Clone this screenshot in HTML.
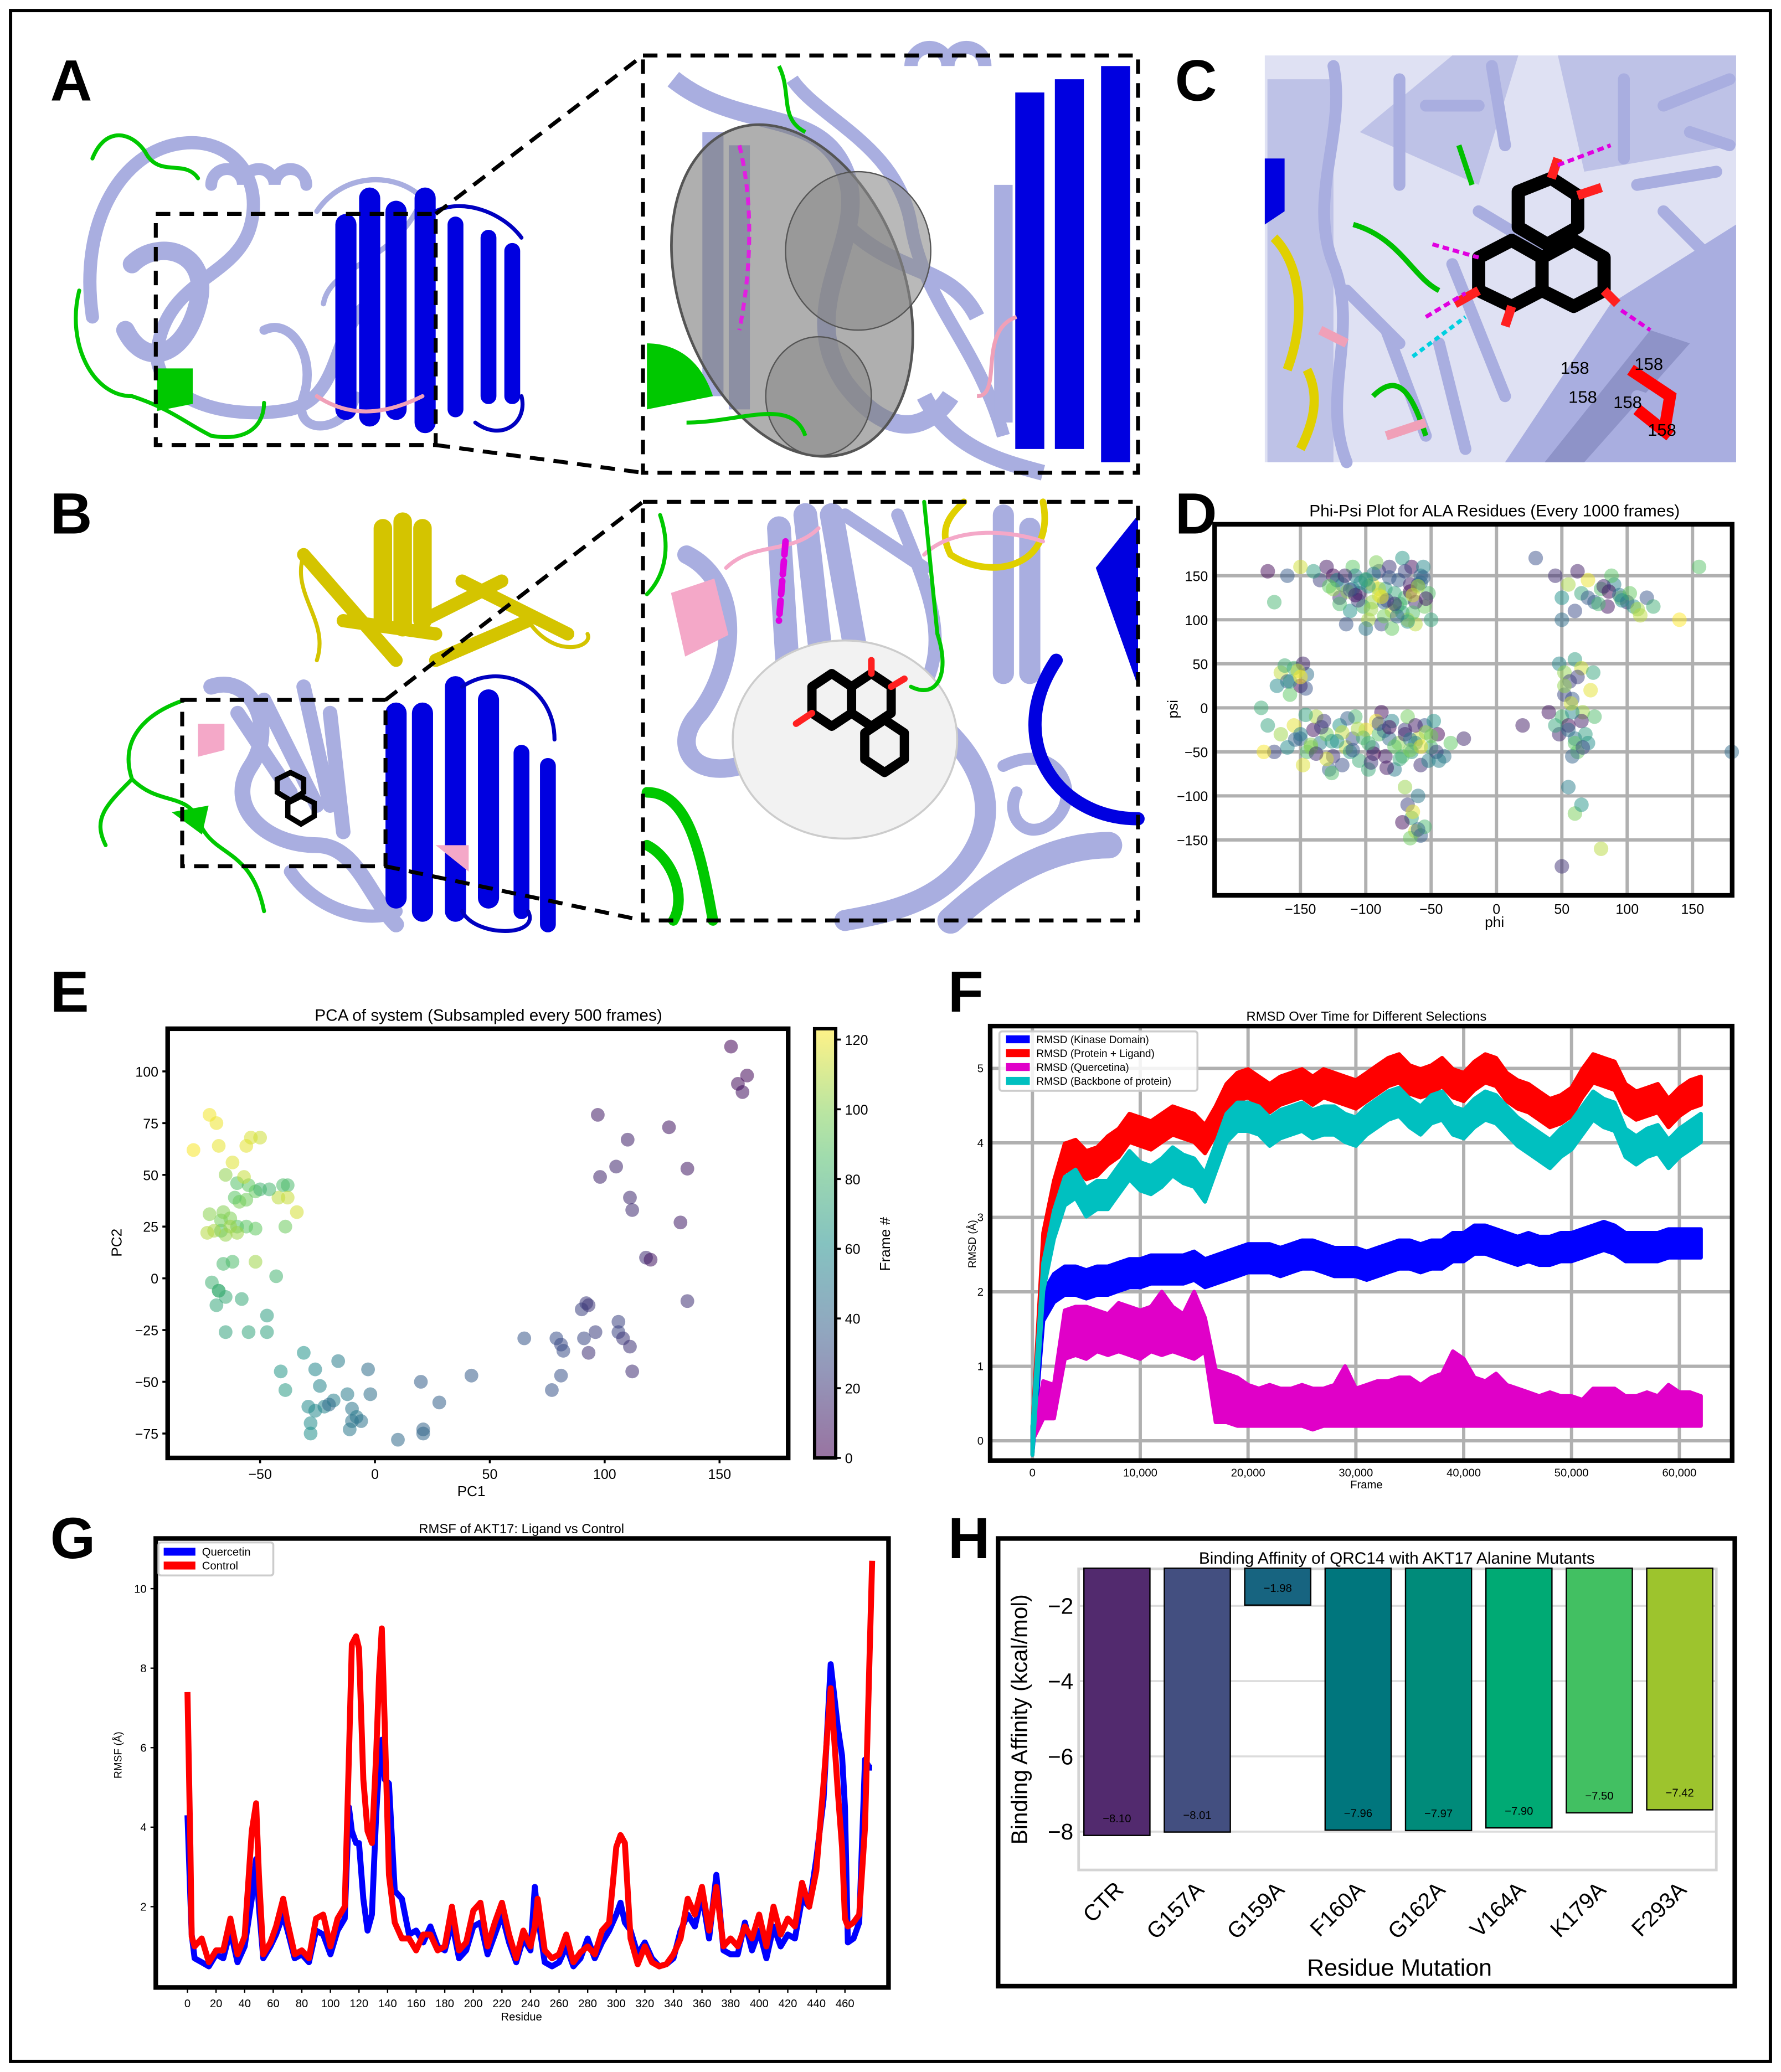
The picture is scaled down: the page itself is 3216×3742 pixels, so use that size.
<!DOCTYPE html>
<html><head><meta charset="utf-8">
<style>
html,body{margin:0;padding:0;background:#fff;}
svg{display:block;}
text{font-family:"Liberation Sans",sans-serif;}
</style></head>
<body>
<svg id="fig" xmlns="http://www.w3.org/2000/svg" width="3216" height="3742" viewBox="0 0 1349 1569" preserveAspectRatio="none">
<rect x="0" y="0" width="1349" height="1569" fill="#fff"/>
<rect x="8" y="8" width="1333" height="1553" fill="none" stroke="#000" stroke-width="2.5"/>

<g font-weight="bold" font-size="44" fill="#000">
<text x="38" y="76">A</text>
<text x="38" y="404">B</text>
<text x="890" y="76">C</text>
<text x="890" y="404">D</text>
<text x="38" y="766">E</text>
<text x="718" y="766">F</text>
<text x="38" y="1180">G</text>
<text x="718" y="1180">H</text>
</g>

<!-- Panel A protein -->
<g fill="none" stroke-linecap="round">
<path d="M70,240 C60,170 90,120 130,110 C170,100 200,130 190,170 C180,210 130,210 120,260 C110,300 170,320 220,310 C260,300 250,250 280,230" stroke="#a9aee0" stroke-width="10"/>
<path d="M100,200 C120,180 160,190 150,230 C140,270 110,280 95,250" stroke="#a9aee0" stroke-width="14"/>
<path d="M160,140 a12,12 0 1,1 24,0 a12,12 0 1,1 24,0 a12,12 0 1,1 24,0" stroke="#a9aee0" stroke-width="9"/>
<path d="M200,250 C220,240 240,270 230,300 C220,330 260,330 270,300" stroke="#a9aee0" stroke-width="7"/>
<path d="M240,160 C260,130 300,130 320,150 C300,200 250,200 245,230" stroke="#a9aee0" stroke-width="4"/>
<path d="M60,220 C50,260 70,300 100,300 C130,310 140,320 160,330 C190,335 200,320 200,305" stroke="#00c800" stroke-width="3"/>
<path d="M70,120 C80,95 100,100 110,115 C120,135 140,120 150,135" stroke="#00c800" stroke-width="3"/>
<path d="M120,280 l25,0 l0,25 l-25,5 z" fill="#00c800" stroke="#00c800" stroke-width="2"/>
<path d="M262,170 l0,140 M280,150 l0,165 M300,160 l0,150 M322,150 l0,170" stroke="#0000e0" stroke-width="16"/>
<path d="M345,170 l0,140 M370,180 l0,120 M388,190 l0,110" stroke="#0000e0" stroke-width="12"/>
<path d="M330,160 C350,150 380,160 395,180 M395,300 C400,320 380,335 360,320" stroke="#0000c0" stroke-width="3"/>
<path d="M240,300 C270,320 300,310 320,300" stroke="#f0a0b8" stroke-width="3"/>
</g>
<g fill="none" stroke="#000" stroke-width="3" stroke-dasharray="11,7">
<rect x="118" y="162" width="212" height="175"/>
<path d="M330,162 L487,42 M330,337 L487,358"/>
</g>

<!-- Panel A zoom -->
<g fill="none">
<path d="M510,60 C560,100 620,80 640,130 C660,180 600,230 640,290 C670,330 700,330 720,300" stroke="#a9aee0" stroke-width="14"/>
<path d="M600,60 C620,90 680,110 690,170 C700,230 740,260 760,330" stroke="#a9aee0" stroke-width="10"/>
<path d="M640,170 C680,210 720,200 740,240 M700,300 C720,340 760,350 790,358" stroke="#a9aee0" stroke-width="12"/>
<path d="M540,100 l0,200 M560,110 l0,200" stroke="#a9aee0" stroke-width="16"/>
<path d="M690,50 a14,14 0 1,1 28,0 a14,14 0 1,1 28,0" stroke="#a9aee0" stroke-width="10"/>
<ellipse cx="600" cy="220" rx="85" ry="130" fill="#7a7a7a" fill-opacity="0.6" stroke="#555" stroke-width="2" transform="rotate(-20 600 220)"/>
<ellipse cx="650" cy="190" rx="55" ry="60" fill="#8a8a8a" fill-opacity="0.6" stroke="#555"/>
<ellipse cx="620" cy="300" rx="40" ry="45" fill="#8a8a8a" fill-opacity="0.6" stroke="#555"/>
<path d="M560,110 C570,150 570,200 560,250" stroke="#e020e0" stroke-width="3" stroke-dasharray="6,4"/>
<path d="M780,70 l0,270 M810,60 l0,280 M845,50 l0,300" stroke="#0000e0" stroke-width="22"/>
<path d="M760,140 l0,180" stroke="#a9aee0" stroke-width="14"/>
<path d="M740,300 C760,300 740,250 770,240" stroke="#f0a0b8" stroke-width="3"/>
<path d="M490,260 C510,260 530,270 540,300 L490,310 Z" fill="#00c800"/>
<path d="M520,320 C560,320 600,300 610,330 M590,50 C600,70 590,90 610,100" stroke="#00c800" stroke-width="3"/>
</g>
<rect x="487" y="42" width="375" height="316" fill="none" stroke="#000" stroke-width="3" stroke-dasharray="11,7"/>

<!-- Panel C -->
<g>
<rect x="958" y="42" width="357" height="308" fill="#dfe1f3"/>
<path d="M960,60 L1010,60 L1010,350 L960,350 Z M1030,100 L1100,42 L1150,42 L1120,140 Z M1180,42 L1315,42 L1315,110 L1200,130 Z" fill="#a9aee0" opacity="0.6"/>
<path d="M1140,350 L1220,230 L1315,170 L1315,350 Z" fill="#a9aee0"/>
<path d="M1170,350 L1250,250 L1280,260 L1200,350 Z" fill="#8e93c8"/>
<g fill="none" stroke="#a9aee0" stroke-width="9" stroke-linecap="round">
<path d="M1010,50 C1020,100 990,150 1010,200 C1030,250 1000,300 1020,350"/>
<path d="M1060,60 L1060,140 M1080,80 L1120,80 M1100,200 L1140,300 M1050,250 L1080,330 M1240,140 L1300,130 M1260,160 L1300,200 M1230,60 L1230,120 M1260,80 L1310,60"/>
<path d="M1120,160 L1170,190 M1020,220 L1060,260 M1240,300 L1300,320 M1130,50 L1140,110 M1280,100 L1310,110 M1090,260 L1110,340"/>
</g>
<path d="M958,120 l15,0 l0,40 l-15,10 z" fill="#0000e0"/>
<path d="M965,180 C985,200 990,240 975,280 M990,280 C1000,300 995,320 985,340" fill="none" stroke="#e0d000" stroke-width="7"/>
<path d="M1025,170 C1060,180 1070,210 1090,220 M1040,300 C1060,280 1070,300 1080,330 M1105,110 l10,30" fill="none" stroke="#00c000" stroke-width="4"/>
<path d="M1000,250 l20,10 M1050,330 l30,-10" fill="none" stroke="#f0a0b8" stroke-width="7"/>
<path d="M1235,280 l30,20 l-5,30 M1240,310 l25,20" fill="none" stroke="#ff0000" stroke-width="9"/>
<g fill="none" stroke="#000" stroke-width="10" stroke-linejoin="round">
<polygon points="1150,145 1175,135 1195,148 1195,172 1172,185 1150,172"/>
<polygon points="1120,195 1145,182 1168,195 1168,220 1145,232 1120,220"/>
<polygon points="1168,195 1192,182 1215,195 1215,220 1192,232 1168,220"/>
</g>
<g fill="none" stroke="#ff2020" stroke-width="7">
<path d="M1195,148 l18,-6 M1175,135 l5,-15 M1120,220 l-18,10 M1215,220 l10,10 M1145,232 l-5,15"/>
</g>
<path d="M1180,125 L1220,110 M1085,185 L1120,195 M1080,240 L1110,222 M1228,235 L1250,250" stroke="#e000e0" stroke-width="3" stroke-dasharray="5,3" fill="none"/>
<path d="M1070,270 L1110,240" stroke="#00d0e0" stroke-width="3" stroke-dasharray="4,3" fill="none"/>
<g font-size="13" fill="#000">
<text x="1182" y="283">158</text><text x="1238" y="280">158</text>
<text x="1188" y="305">158</text><text x="1222" y="309">158</text><text x="1248" y="330">158</text>
</g>
</g>

<!-- Panel B protein -->
<g fill="none" stroke-linecap="round">
<path d="M290,400 l0,70 M305,395 l0,80 M320,400 l0,70" stroke="#d4c400" stroke-width="14"/>
<path d="M230,420 L300,500 M260,470 L330,480 M320,470 L380,440 M330,500 L400,470 M350,440 L430,480" stroke="#d4c400" stroke-width="10"/>
<path d="M400,470 C420,500 450,490 445,480 M230,420 C220,450 250,470 240,500" stroke="#d4c400" stroke-width="3"/>
<path d="M160,520 C190,510 210,550 190,580 C170,610 200,640 240,640 C270,640 280,680 300,700" stroke="#a9aee0" stroke-width="12"/>
<path d="M180,540 l40,60 M200,530 l40,80 M230,520 l20,90 M250,540 l10,90" stroke="#a9aee0" stroke-width="11"/>
<path d="M220,660 C240,690 280,700 300,690" stroke="#a9aee0" stroke-width="10"/>
<path d="M300,540 l0,140 M320,540 l0,150 M345,520 l0,170 M370,530 l0,150" stroke="#0000e0" stroke-width="16"/>
<path d="M395,570 l0,120 M415,580 l0,120" stroke="#0000e0" stroke-width="12"/>
<path d="M350,520 C380,500 420,520 420,560 M400,690 C410,710 360,710 350,690" stroke="#0000c0" stroke-width="3"/>
<path d="M140,530 C110,540 90,560 100,590 C80,610 70,620 80,640 M100,590 C120,610 140,600 150,620 C160,650 190,640 200,690" stroke="#00c800" stroke-width="3"/>
<path d="M130,615 l28,-5 l-5,22 z" fill="#00c800"/>
<path d="M150,548 l20,0 l0,20 l-20,5 z" fill="#f4a8c8"/>
<path d="M330,640 l25,0 l0,20 z" fill="#f4a8c8"/>
<g stroke="#000" stroke-width="4" fill="none"><polygon points="210,590 220,585 230,590 230,600 220,606 210,600"/><polygon points="218,608 228,603 238,608 238,618 228,624 218,618"/></g>
</g>
<g fill="none" stroke="#000" stroke-width="3" stroke-dasharray="11,7">
<rect x="138" y="530" width="154" height="126"/>
<path d="M292,530 L487,380 M292,656 L487,697"/>
</g>

<!-- Panel B zoom -->
<g fill="none" stroke-linecap="round">
<path d="M520,420 C560,440 560,500 530,540 C510,560 520,590 560,580" stroke="#a9aee0" stroke-width="14"/>
<path d="M590,400 L600,560 M610,390 L630,570 M630,390 L660,560" stroke="#a9aee0" stroke-width="18"/>
<path d="M640,390 L700,430 M680,390 C700,440 720,480 700,520" stroke="#a9aee0" stroke-width="10"/>
<path d="M700,540 C730,560 760,600 740,640 C720,680 680,690 640,697" stroke="#a9aee0" stroke-width="16"/>
<path d="M760,580 C800,560 820,600 800,620 C780,640 760,620 770,600" stroke="#a9aee0" stroke-width="9"/>
<path d="M720,697 C760,660 800,640 840,640" stroke="#a9aee0" stroke-width="20"/>
<path d="M760,390 l0,120 M780,400 l0,110" stroke="#a9aee0" stroke-width="16"/>
<ellipse cx="640" cy="560" rx="85" ry="75" fill="#f2f2f2" stroke="#ccc" stroke-width="1.5"/>
<path d="M800,500 C760,560 800,620 862,620" stroke="#0000e0" stroke-width="10"/>
<path d="M830,430 L862,390 L862,520 Z" fill="#0000e0" stroke="none"/>
<path d="M790,380 C800,430 750,440 720,420 C710,400 720,390 730,380" stroke="#e0d000" stroke-width="5"/>
<path d="M510,450 l30,-10 l10,40 l-30,15 z" fill="#f4a8c8" stroke="#f4a8c8" stroke-width="3"/>
<path d="M550,430 C570,410 600,420 620,400 M700,420 C720,400 760,400 790,410" stroke="#f4a8c8" stroke-width="3"/>
<path d="M595,410 L590,470" stroke="#e000e0" stroke-width="5" stroke-dasharray="10,5"/>
<path d="M490,600 C520,600 530,640 540,697 M490,640 C510,650 520,680 510,697" stroke="#00c800" stroke-width="8"/>
<path d="M500,390 C510,420 500,440 490,450 M690,520 C710,530 720,510 710,480 L700,380" stroke="#00c800" stroke-width="3"/>
<g stroke="#000" stroke-width="7" fill="none" stroke-linejoin="round">
<polygon points="615,520 630,510 645,520 645,540 630,550 615,540"/>
<polygon points="645,520 660,510 675,520 675,540 660,550 645,540"/>
<polygon points="655,555 670,545 685,555 685,575 670,585 655,575"/>
</g>
<path d="M615,540 l-12,8 M660,510 l0,-10 M675,520 l10,-6" stroke="#ff2020" stroke-width="5"/>
</g>
<rect x="487" y="380" width="375" height="317" fill="none" stroke="#000" stroke-width="3" stroke-dasharray="11,7"/>

<g id="chartD"></g>
<g id="chartE"></g>
<g id="chartF"></g>
<g id="chartG"></g>
<g id="chartH"></g>
</svg>

<script>
// ---------- Panel D data ----------
const phiVals = [-125,-118,-110,-105,-100,-95,-90,-85,-80,-75,-70,-65,-60,-55,-120,-112,-98,-88,-78,-68,-58,-52,-130,-108,-92,-82,-72,-62,-115,-102,-95,-86,-76,-66,-56,-125,-135,-140,-150,-160,-170,-175,-100,-80,-62,-110,-90,-70,-50,
-155,-150,-145,-140,-135,-130,-125,-120,-115,-110,-105,-100,-95,-90,-85,-80,-75,-70,-65,-60,-55,-50,-45,-40,-35,-25,-160,-165,-170,-175,-148,-128,-108,-88,-78,-68,-58,-48,-138,-118,-98,-92,-82,-72,-62,-52,-142,-132,-112,
-165,-160,-155,-150,-145,-158,-148,-168,
-70,-68,-65,-62,-58,-55,-72,-60,-66,
45,50,55,60,65,70,75,80,85,90,95,100,105,110,115,120,140,50,88,62,
48,52,56,60,65,58,50,55,60,62,48,70,66,52,45,72,58,75,40,55,60,50,65,80,
30,-180,-178,180,155,20,
-122,-114,-106,-98,-90,-82,-74,-66,-58,-128,-116,-104,-96,-84,-72,-64,-56,-120,-108,-94,-86,-78,-68,-60,-112,-100,-88,-76,-64,-54,
-150,-142,-134,-126,-118,-110,-102,-94,-86,-78,-70,-62,-54,-46,-146,-130,-114,-98,-82,-66,-50,-138,-122,-106,-90,-74,-58,-154,-126,-84,-44,-66,-96,
-158,-152,-146,-162,-150,
55,60,65,58,52,62,68,57,70,78,86,94,102,82,96,108,66,74,
-64,-60];
const psiVals = [150,140,160,130,145,120,155,135,110,145,125,160,140,115,125,110,100,95,130,100,150,130,160,150,165,160,170,95,95,115,140,120,115,140,160,135,145,155,160,150,120,155,90,90,120,135,135,155,100,
-20,-35,-50,-25,-40,-30,-55,-20,-45,-35,-60,-25,-45,-30,-55,-15,-40,-25,-50,-35,-20,-45,-30,-55,-40,-35,-45,-30,-50,-20,-65,-70,-10,-5,-70,-10,-65,-15,-10,-65,-70,-15,-35,-55,-20,-60,-45,-15,-50,
40,30,45,25,38,15,50,25,
-90,-110,-125,-140,-145,-135,-130,-100,-148,
150,125,140,110,130,145,120,135,115,140,125,120,115,105,125,115,100,100,150,155,
50,40,30,55,45,10,-10,-20,-35,-50,-30,-40,-5,15,-20,20,-55,-10,-5,-90,-120,-180,-110,-160,
170,0,-50,-50,160,-20,
145,132,122,138,128,148,118,132,142,138,150,142,112,122,108,128,148,118,128,152,104,118,98,138,134,146,126,104,108,124,
-30,-42,-22,-38,-28,-48,-34,-52,-26,-44,-30,-40,-28,-50,-8,-58,-12,-40,-22,-36,-32,-52,-38,-24,-18,-58,-44,-36,-74,-68,-60,-48,-62,
30,42,22,48,35,
-25,-40,-15,-5,25,35,-30,5,125,118,132,128,130,138,122,112,-45,40,
-118,-138];
const dTicks = [-150,-100,-50,0,50,100,150];

// ---------- Panel E data ----------
const pc1 = [155,158,162,160,97,110,128,105,136,98,111,112,133,118,120,136,92,90,93,106,106,96,91,108,111,79,81,82,93,65,81,77,112,42,28,20,21,21,10,
-3,-2,-10,-8,-10,-6,-11,-12,-16,-18,-22,-24,-26,-26,-29,-28,-28,-20,-31,-41,-39,-47,-47,-55,-58,-65,-65,-69,-68,-68,-71,
-43,-66,-62,-52,-67,-60,-56,-52,-39,-67,-63,-72,-65,-60,-70,-73,-63,-66,-59,-56,-52,-55,-61,-60,-40,-38,-42,-38,-34,-57,-65,-46,-50,
-62,-68,-72,-69,-56,-54,-79,-50];
const pc2 = [112,94,98,90,79,67,73,54,53,49,39,33,27,10,9,-11,-12,-15,-13,-21,-26,-26,-29,-29,-33,-29,-32,-35,-36,-29,-47,-54,-45,-47,-60,-50,-73,-75,-78,
-44,-56,-63,-67,-69,-69,-73,-56,-40,-59,-62,-52,-44,-64,-62,-70,-75,-61,-36,-45,-54,-18,-26,-26,-10,-26,-9,-13,-6,-6,-2,
1,7,8,8,23,25,25,24,25,28,29,31,21,22,23,22,25,32,37,38,42,45,39,46,45,45,39,39,32,49,50,43,43,
56,64,79,75,64,68,62,68];
const frameIdx = [2,4,3,6,10,12,8,14,9,13,15,16,11,17,7,18,22,24,20,25,26,23,27,21,19,30,28,29,18,33,31,32,17,36,38,37,39,40,42,
44,45,48,50,47,46,49,51,52,53,54,55,56,57,58,59,60,43,62,64,66,68,70,72,74,71,75,73,76,77,78,
80,82,84,104,86,88,90,92,94,96,98,100,102,104,106,108,103,99,97,95,93,91,89,87,85,83,110,112,114,111,101,81,79,
116,118,120,119,117,115,121,113];
const eXTicks = [-50,0,50,100,150];
const eYTicks = [-75,-50,-25,0,25,50,75,100];
const cbTicks = [0,20,40,60,80,100,120];

// ---------- Panel F data (every 1000 frames) ----------
const fFrames = [];
for (let k = 0; k <= 62; k++) fFrames.push(k * 1000);
const rmsdLigProt = [0,2.6,3.3,3.8,3.85,3.7,3.75,3.9,4.0,4.2,4.15,4.1,4.2,4.3,4.25,4.2,4.05,4.3,4.6,4.75,4.8,4.7,4.6,4.7,4.75,4.8,4.7,4.8,4.75,4.7,4.65,4.75,4.85,4.95,5.0,4.85,4.8,4.85,4.95,4.8,4.75,4.9,5.0,4.95,4.75,4.65,4.6,4.5,4.4,4.45,4.55,4.8,5.0,4.95,4.9,4.6,4.5,4.55,4.6,4.4,4.55,4.65,4.7];
const rmsdBackbone = [0,2.2,2.9,3.35,3.45,3.2,3.3,3.3,3.5,3.7,3.55,3.5,3.6,3.75,3.65,3.6,3.4,3.8,4.2,4.35,4.35,4.3,4.15,4.25,4.3,4.35,4.25,4.3,4.3,4.2,4.15,4.3,4.4,4.5,4.55,4.4,4.3,4.45,4.5,4.3,4.25,4.4,4.5,4.45,4.3,4.15,4.05,3.95,3.85,4.0,4.1,4.3,4.5,4.4,4.35,4.0,3.9,4.0,4.05,3.85,4.0,4.1,4.2];
const rmsdKinase = [0,1.8,2.05,2.15,2.15,2.1,2.15,2.15,2.2,2.25,2.25,2.3,2.3,2.3,2.3,2.35,2.25,2.3,2.35,2.4,2.45,2.45,2.45,2.4,2.45,2.5,2.5,2.45,2.4,2.4,2.4,2.35,2.4,2.45,2.5,2.5,2.45,2.5,2.5,2.6,2.6,2.7,2.7,2.65,2.6,2.55,2.6,2.55,2.55,2.6,2.6,2.65,2.7,2.75,2.7,2.6,2.6,2.6,2.6,2.65,2.65,2.65,2.65];
const quercLo = [0,0.3,0.3,1.1,1.15,1.1,1.2,1.15,1.2,1.15,1.1,1.2,1.15,1.2,1.15,1.1,1.2,0.25,0.25,0.2,0.2,0.2,0.2,0.2,0.2,0.2,0.15,0.2,0.2,0.2,0.2,0.2,0.2,0.2,0.2,0.2,0.2,0.2,0.2,0.2,0.2,0.2,0.2,0.2,0.2,0.2,0.2,0.2,0.2,0.2,0.2,0.2,0.2,0.2,0.2,0.2,0.2,0.2,0.2,0.2,0.2,0.2,0.2];
const quercHi = [0,0.8,0.75,1.75,1.8,1.8,1.75,1.7,1.85,1.8,1.75,1.8,2.0,1.8,1.7,2.0,1.65,0.95,0.9,0.85,0.75,0.7,0.75,0.7,0.7,0.75,0.7,0.7,0.75,1.0,0.7,0.75,0.8,0.8,0.85,0.85,0.75,0.85,0.9,1.2,1.1,0.85,0.8,0.9,0.75,0.7,0.65,0.6,0.65,0.6,0.6,0.55,0.7,0.7,0.7,0.6,0.6,0.65,0.6,0.75,0.65,0.65,0.6];
const fXTicks = [0,10000,20000,30000,40000,50000,60000];
const fYTicks = [0,1,2,3,4,5];

// ---------- Panel G data ----------
const gResidues = [0,2,3,5,10,15,20,25,30,35,40,45,48,50,53,58,62,67,70,75,80,85,90,95,100,105,110,113,115,118,120,123,126,129,132,134,136,138,141,145,150,155,160,165,170,175,180,185,190,195,200,205,210,215,220,225,230,235,240,243,245,250,255,260,265,270,275,280,285,290,295,300,303,306,310,315,320,325,330,335,340,345,350,355,360,365,370,375,380,385,390,395,400,405,410,415,420,425,430,435,440,445,450,455,458,460,462,466,470,474,477,479];
const rmsfControl = [7.4,3.5,1.25,1.0,1.2,0.6,0.9,0.9,1.7,0.8,1.25,3.9,4.6,2.8,0.8,1.1,1.5,2.2,1.6,0.8,0.9,0.7,1.7,1.8,1.0,1.7,2.0,5.8,8.6,8.8,8.5,5.2,3.9,3.6,5.8,7.8,9.0,6.6,2.8,1.6,1.2,1.2,0.9,1.3,1.3,0.9,1.0,2.0,0.9,1.1,1.9,2.1,1.0,1.6,2.1,1.3,0.7,1.4,1.0,1.5,2.2,0.9,0.7,0.8,1.3,0.6,0.85,1.0,0.8,1.4,1.6,3.5,3.8,3.6,1.2,0.55,1.0,0.6,0.5,0.55,0.8,1.2,2.2,1.8,2.5,1.4,2.5,1.0,1.2,1.0,1.5,1.2,1.8,1.0,2.0,1.3,1.7,1.5,2.6,2.0,2.9,5.1,7.5,4.9,3.5,1.7,1.5,1.6,1.8,4.0,8.0,10.7];
const rmsfQuercetin = [4.3,2.2,1.3,0.7,0.6,0.5,0.8,0.7,1.4,0.6,1.0,2.2,3.2,2.0,0.7,1.0,1.3,1.8,1.4,0.7,0.8,0.6,1.4,1.3,0.8,1.4,1.7,4.5,3.9,3.6,3.6,2.2,1.4,1.8,4.3,5.5,6.2,5.2,5.1,2.4,2.2,1.3,1.4,1.1,1.5,1.0,0.9,1.6,0.7,0.9,1.5,1.6,0.8,1.3,1.8,1.1,0.6,1.2,0.9,2.5,1.8,0.6,0.5,0.6,1.0,0.5,0.7,1.2,0.7,1.1,1.4,1.8,2.1,1.6,1.4,0.8,1.1,0.7,0.5,0.55,0.7,1.4,1.8,1.5,2.3,1.2,2.8,0.9,0.8,0.8,1.6,0.9,1.4,0.7,1.5,1.0,1.3,1.2,2.2,2.0,3.2,4.7,8.1,6.5,5.8,4.5,1.1,1.2,1.6,5.7,5.5,5.5];
const gXTicks = [0,20,40,60,80,100,120,140,160,180,200,220,240,260,280,300,320,340,360,380,400,420,440,460];
const gYTicks = [2,4,6,8,10];

// ---------- Panel H data ----------
const mutations = ["CTR","G157A","G159A","F160A","G162A","V164A","K179A","F293A"];
const affinities = [-8.10,-8.01,-1.98,-7.96,-7.97,-7.90,-7.50,-7.42];
const affLabels = ["\u22128.10","\u22128.01","\u22121.98","\u22127.96","\u22127.97","\u22127.90","\u22127.50","\u22127.42"];
const hYTicks = [-2,-4,-6,-8];
const barColors = ["#522a6e","#434f80","#176480","#00767d","#008b7a","#00aa74","#42c062","#9dc42d"];

// ---------- helpers ----------
const NS = "http://www.w3.org/2000/svg";
function mk(tag, attrs, parent, txt) {
  const e = document.createElementNS(NS, tag);
  for (const k in attrs) e.setAttribute(k, attrs[k]);
  if (txt !== undefined) e.textContent = txt;
  parent.appendChild(e);
  return e;
}
const vir = [[68,1,84],[59,82,139],[33,145,140],[94,201,98],[253,231,37]];
function viridis(t) {
  t = Math.max(0, Math.min(1, t));
  const s = t * 4, i = Math.min(3, Math.floor(s)), f = s - i;
  const a = vir[i], b = vir[i + 1];
  return "rgb(" + [0,1,2].map(j => Math.round(a[j] + (b[j] - a[j]) * f)).join(",") + ")";
}
function fmtK(v){ return v === 0 ? "0" : (v/1000) + ",000"; }

// ---------- Panel D ----------
(function(){
  const g = document.getElementById("chartD");
  const L=920,R=1312,T=397,B=678;
  const x = v => 1133.5 + v * 0.99;
  const y = v => 536 - v * 0.667;
  mk("text",{x:1132,y:391,"text-anchor":"middle","font-size":12.5},g,"Phi-Psi Plot for ALA Residues (Every 1000 frames)");
  dTicks.forEach(t => {
    const gl = mk("line",{x1:x(t),x2:x(t),y1:T,y2:B,stroke:"#b0b0b0","stroke-width":2.5},g);
    
    const gl2 = mk("line",{x1:L,x2:R,y1:y(t),y2:y(t),stroke:"#b0b0b0","stroke-width":2.5},g);
    
    const tx = mk("text",{x:x(t),y:B+14,"text-anchor":"middle","font-size":10.5},g,t<0?"\u2212"+(-t):""+t);
    
    const ty = mk("text",{x:L-5,y:y(t)+4,"text-anchor":"end","font-size":10.5},g,t<0?"\u2212"+(-t):""+t);
    
  });
  phiVals.forEach((p,i) => {
    const c = mk("circle",{cx:x(p),cy:y(psiVals[i]),r:5.5,fill:viridis(((i*37)%101)/100),"fill-opacity":0.5},g);
    
  });
  const fr = mk("rect",{x:L,y:T,width:R-L,height:B-T,fill:"none",stroke:"#000","stroke-width":3.5},g);
  
  const xl = mk("text",{x:1132,y:702,"text-anchor":"middle","font-size":11},g,"phi");
  
  const yl = mk("text",{x:0,y:0,"text-anchor":"middle","font-size":11,transform:"translate(892,537) rotate(-90)"},g,"psi");
  
})();

// ---------- Panel E ----------
(function(){
  const g = document.getElementById("chartE");
  const L=127,R=597,T=779,B=1104;
  const x = v => 284 + v * 1.74;
  const y = v => 968 - v * 1.567;
  mk("text",{x:370,y:773,"text-anchor":"middle","font-size":12.5},g,"PCA of system (Subsampled every 500 frames)");
  pc1.forEach((p,i) => {
    const c = mk("circle",{cx:x(p),cy:y(pc2[i]),r:5.2,fill:viridis(frameIdx[i]/122),"fill-opacity":0.55},g);
    
  });
  const fr = mk("rect",{x:L,y:T,width:R-L,height:B-T,fill:"none",stroke:"#000","stroke-width":3.5},g);
  
  eXTicks.forEach(t => {
    mk("line",{x1:x(t),x2:x(t),y1:B,y2:B+4,stroke:"#000","stroke-width":1.5},g);
    const tx = mk("text",{x:x(t),y:B+16,"text-anchor":"middle","font-size":10.5},g,t<0?"\u2212"+(-t):""+t);
    
  });
  eYTicks.forEach(t => {
    mk("line",{x1:L-4,x2:L,y1:y(t),y2:y(t),stroke:"#000","stroke-width":1.5},g);
    const ty = mk("text",{x:L-7,y:y(t)+4,"text-anchor":"end","font-size":10.5},g,t<0?"\u2212"+(-t):""+t);
    
  });
  const xl = mk("text",{x:357,y:1133,"text-anchor":"middle","font-size":11},g,"PC1");
  
  const yl = mk("text",{x:0,y:0,"text-anchor":"middle","font-size":11,transform:"translate(92,941) rotate(-90)"},g,"PC2");
  
  const defs = mk("defs",{},g);
  const lg = mk("linearGradient",{id:"virgrad",x1:0,y1:1,x2:0,y2:0},defs);
  for (let k=0;k<=10;k++) mk("stop",{offset:(k*10)+"%","stop-color":viridis(k/10),"stop-opacity":0.55},lg);
  const cb = mk("rect",{x:617,y:779,width:16,height:325,fill:"url(#virgrad)",stroke:"#000","stroke-width":2.5},g);
  
  const cy = v => 1104 - v * 2.64;
  cbTicks.forEach(t => {
    mk("line",{x1:633,x2:637,y1:cy(t),y2:cy(t),stroke:"#000","stroke-width":1.5},g);
    const tt = mk("text",{x:640,y:cy(t)+4,"font-size":10.5},g,""+t);
    
  });
  const cl = mk("text",{x:0,y:0,"text-anchor":"middle","font-size":11,transform:"translate(674,942) rotate(-90)"},g,"Frame #");
  
})();

// ---------- Panel F ----------
(function(){
  const g = document.getElementById("chartF");
  const L=750,R=1312,T=777,B=1106;
  const x = v => 782 + v * (490/60000);
  const y = v => 1091 - v * 56.4;
  mk("text",{x:1035,y:773,"text-anchor":"middle","font-size":10},g,"RMSD Over Time for Different Selections");
  fXTicks.forEach(t => {
    mk("line",{x1:x(t),x2:x(t),y1:T,y2:B,stroke:"#b0b0b0","stroke-width":2.5},g);
    const tx = mk("text",{x:x(t),y:B+12,"text-anchor":"middle","font-size":8.5},g,fmtK(t));
    
  });
  fYTicks.forEach(t => {
    mk("line",{x1:L,x2:R,y1:y(t),y2:y(t),stroke:"#b0b0b0","stroke-width":2.5},g);
    const ty = mk("text",{x:L-5,y:y(t)+3,"text-anchor":"end","font-size":8.5},g,""+t);
    
  });
  function band(lo, hi, color, name){
    let d = "M";
    fFrames.forEach((f,i)=>{ d += x(f).toFixed(1)+","+y(hi[i]).toFixed(1)+" L"; });
    for (let i=fFrames.length-1;i>=0;i--) d += x(fFrames[i]).toFixed(1)+","+y(lo[i]).toFixed(1)+(i>0?" L":" Z");
    const p = mk("path",{d:d,fill:color,stroke:color,"stroke-width":3,"stroke-linejoin":"round"},g);
    
  }
  const w = 0.19;
  band(rmsdKinase.map(v=>v-w), rmsdKinase.map(v=>v+w), "#0000ff", "rmsd-kinase-line");
  band(rmsdLigProt.map(v=>v-w), rmsdLigProt.map(v=>v+w), "#ff0000", "rmsd-protein-ligand-line");
  band(quercLo, quercHi, "#e000c8", "rmsd-quercetin-line");
  band(rmsdBackbone.map(v=>v-w), rmsdBackbone.map(v=>v+w), "#00c0c0", "rmsd-backbone-line");
  const fr = mk("rect",{x:L,y:T,width:R-L,height:B-T,fill:"none",stroke:"#000","stroke-width":3.5},g);
  
  const lgBox = mk("rect",{x:757,y:781,width:150,height:45,fill:"#fff","fill-opacity":0.85,stroke:"#ccc","stroke-width":1.5,rx:2},g);
  
  const items = [["RMSD (Kinase Domain)","#0000ff"],["RMSD (Protein + Ligand)","#ff0000"],["RMSD (Quercetina)","#e000c8"],["RMSD (Backbone of protein)","#00c0c0"]];
  items.forEach((it,i)=>{
    mk("rect",{x:762,y:784+i*10.5,width:18,height:6,fill:it[1]},g);
    const t = mk("text",{x:785,y:790+i*10.5,"font-size":8},g,it[0]);
    
  });
  const xl = mk("text",{x:1035,y:1127,"text-anchor":"middle","font-size":8.5},g,"Frame");
  
  const yl = mk("text",{x:0,y:0,"text-anchor":"middle","font-size":8,transform:"translate(739,942) rotate(-90)"},g,"RMSD (\u00c5)");
  
})();

// ---------- Panel G ----------
(function(){
  const g = document.getElementById("chartG");
  const L=118,R=673,T=1165,B=1505;
  const x = v => 142 + v * 1.0826;
  const y = v => 1504 - v * 30.1;
  mk("text",{x:395,y:1161,"text-anchor":"middle","font-size":10},g,"RMSF of AKT17: Ligand vs Control");
  function line(vals, color, name){
    const pts = gResidues.map((r,i)=>x(r).toFixed(1)+","+y(vals[i]).toFixed(1)).join(" ");
    const p = mk("polyline",{points:pts,fill:"none",stroke:color,"stroke-width":4.5,"stroke-linejoin":"round"},g);
    
  }
  line(rmsfQuercetin, "#0000ff", "rmsf-quercetin-line");
  line(rmsfControl, "#ff0000", "rmsf-control-line");
  const fr = mk("rect",{x:L,y:T,width:R-L,height:B-T,fill:"none",stroke:"#000","stroke-width":3.5},g);
  
  gXTicks.forEach(t => {
    mk("line",{x1:x(t),x2:x(t),y1:B,y2:B+4,stroke:"#000","stroke-width":1},g);
    const tx = mk("text",{x:x(t),y:B+15,"text-anchor":"middle","font-size":8.5},g,""+t);
    
  });
  gYTicks.forEach(t => {
    mk("line",{x1:L-4,x2:L,y1:y(t),y2:y(t),stroke:"#000","stroke-width":1},g);
    const ty = mk("text",{x:L-7,y:y(t)+3,"text-anchor":"end","font-size":8.5},g,""+t);
    
  });
  const lgBox = mk("rect",{x:120,y:1168,width:87,height:25,fill:"#fff","fill-opacity":0.85,stroke:"#ccc","stroke-width":1.5,rx:2},g);
  
  [["Quercetin","#0000ff"],["Control","#ff0000"]].forEach((it,i)=>{
    mk("rect",{x:124,y:1172+i*10.5,width:24,height:6,fill:it[1]},g);
    const t = mk("text",{x:153,y:1178+i*10.5,"font-size":8.5},g,it[0]);
    
  });
  const xl = mk("text",{x:395,y:1530,"text-anchor":"middle","font-size":8.5},g,"Residue");
  
  const yl = mk("text",{x:0,y:0,"text-anchor":"middle","font-size":8,transform:"translate(92,1329) rotate(-90)"},g,"RMSF (\u00c5)");
  
})();

// ---------- Panel H ----------
(function(){
  const g = document.getElementById("chartH");
  const box = mk("rect",{x:756,y:1165,width:558,height:339,fill:"none",stroke:"#000","stroke-width":3.5},g);
  
  const L=817,R=1300,T=1188,B=1416;
  const x = i => 846 + i * 60.9;
  const y = v => 1216 + (-2 - v) * 28.5;
  mk("text",{x:1058,y:1184,"text-anchor":"middle","font-size":12.5},g,"Binding Affinity of QRC14 with AKT17 Alanine Mutants");
  hYTicks.forEach(t => {
    const gl = mk("line",{x1:L,x2:R,y1:y(t),y2:y(t),stroke:"#dcdcdc","stroke-width":1.5},g);
    
    const ty = mk("text",{x:L-4,y:y(t)+6,"text-anchor":"end","font-size":17},g,"\u2212"+(-t));
    
  });
  const fr = mk("rect",{x:L,y:T,width:R-L,height:B-T,fill:"none",stroke:"#d4d4d4","stroke-width":2},g);
  
  mutations.forEach((m,i) => {
    const top = y(-1), bot = y(affinities[i]);
    const b = mk("rect",{x:x(i)-25,y:top,width:50,height:bot-top,fill:barColors[i],stroke:"#000","stroke-width":1},g);
    
    const lt = mk("text",{x:x(i),y:bot-10,"text-anchor":"middle","font-size":8.5},g,affLabels[i]);
    
    const cx = x(i)+6, cyy = 1432;
    const tl = mk("text",{x:0,y:0,"text-anchor":"end","font-size":17,transform:"translate("+cx+","+cyy+") rotate(-45)"},g,m);
    
  });
  const xl = mk("text",{x:1060,y:1496,"text-anchor":"middle","font-size":18},g,"Residue Mutation");
  
  const yl = mk("text",{x:0,y:0,"text-anchor":"middle","font-size":17,transform:"translate(778,1302) rotate(-90)"},g,"Binding Affinity (kcal/mol)");
  
})();
</script>
</body></html>
